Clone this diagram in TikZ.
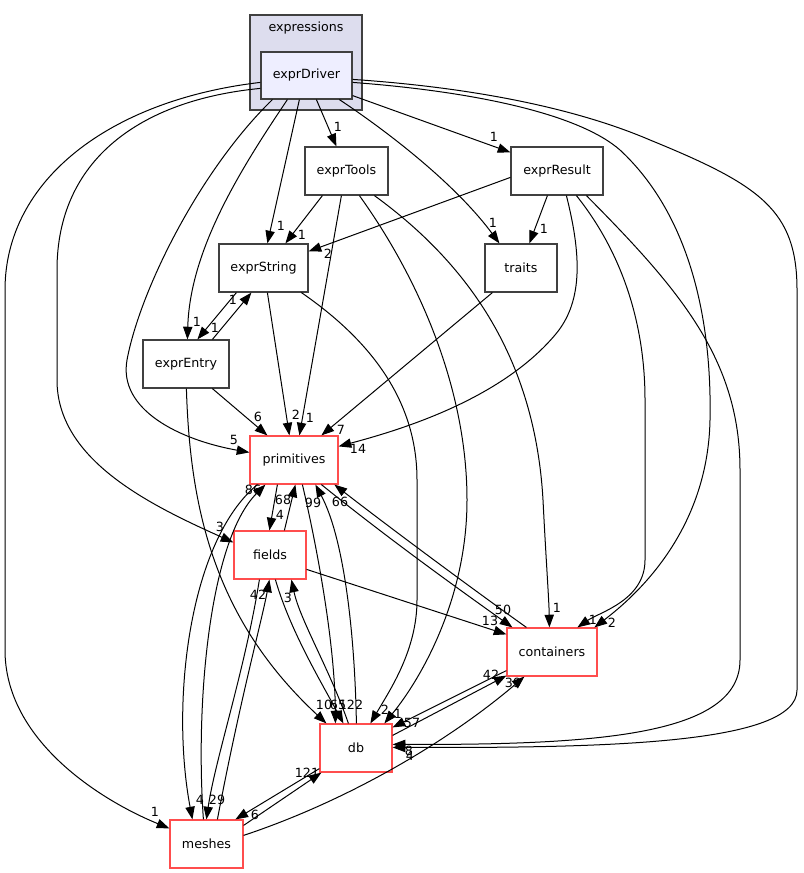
\documentclass[tikz,border=0pt]{standalone}
\usepackage{fontspec}
\setmainfont{DejaVu Sans}
\usetikzlibrary{arrows.meta}
\definecolor{bordergray}{HTML}{404040}
\definecolor{redline}{HTML}{FF4D4D}
\definecolor{clusterfill}{HTML}{DDDDEE}
\definecolor{drivfill}{HTML}{EEEEFF}
\tikzset{
  box/.style={draw=bordergray, line width=0.9pt, fill=white, minimum height=36pt, inner sep=0pt, font=\fontsize{9.5pt}{11pt}\selectfont},
  redbox/.style={box, draw=redline},
  dep/.style={draw=black, line width=0.75pt, -{Triangle[length=9.5pt,width=7pt]}},
  lbl/.style={font=\fontsize{9.5pt}{11pt}\selectfont, inner sep=0pt}
}
\begin{document}
\begin{tikzpicture}[x=0.75pt,y=-0.75pt]
\useasboundingbox (0,0) rectangle (803,873);
% cluster
\node[draw=bordergray, line width=0.9pt, fill=clusterfill, minimum width=84pt, minimum height=71.25pt, inner sep=0pt] (cluster) at (306,62.5) {};
\node[lbl] (clusterlabel) at (306,28) {expressions};
% nodes
\node[box, fill=drivfill, minimum width=68.25pt, minimum height=35.25pt] (exprDriver) at (306.5,75.5) {exprDriver};
\node[box, minimum width=62.25pt] (exprTools) at (346.5,171) {exprTools};
\node[box, minimum width=69pt] (exprResult) at (557,171) {exprResult};
\node[box, minimum width=66.75pt] (exprString) at (263.5,268) {exprString};
\node[box, minimum width=54pt] (traits) at (521,268) {traits};
\node[box, minimum width=64.5pt] (exprEntry) at (186,364) {exprEntry};
\node[redbox, minimum width=66pt] (primitives) at (294,460) {primitives};
\node[redbox, minimum width=54pt] (fields) at (270,555) {fields};
\node[redbox, minimum width=67.5pt] (containers) at (552,652) {containers};
\node[redbox, minimum width=54pt] (db) at (356,748) {db};
\node[redbox, minimum width=54.75pt] (meshes) at (206.5,844) {meshes};

% exprDriver edges
\draw[dep] ([shift={(56,0)}]exprDriver.south west) -- ([shift={(32,0)}]exprTools.north west) node[lbl] at (338,127) {1};
\draw[dep] ([shift={(0,-4)}]exprDriver.south east) -- ([shift={(0,6)}]exprResult.north west) node[lbl] at (494,137) {1};
\draw[dep] ([shift={(39,0)}]exprDriver.south west) -- ([shift={(49,0)}]exprString.north west) node[lbl] at (281,226) {1};
\draw[dep] ([shift={(27,0)}]exprDriver.south west) .. controls (240,170) and (190,250) .. ([shift={(45,0)}]exprEntry.north west) node[lbl] at (197,322) {1};
\draw[dep] ([shift={(12,0)}]exprDriver.south west) .. controls (200,170) and (140,290) .. (127,360) .. controls (118,410) and (180,440) .. ([shift={(0,17)}]primitives.north west) node[lbl] at (234,440) {5};
\draw[dep] ([shift={(0,37)}]exprDriver.north west) .. controls (140,100) and (57,160) .. (57,270) -- (57,380) .. controls (57,460) and (150,505) .. ([shift={(0,12)}]fields.north west) node[lbl] at (220,527) {3};
\draw[dep] ([shift={(0,31)}]exprDriver.north west) .. controls (110,100) and (5,180) .. (5,290) -- (5,650) .. controls (5,740) and (100,800) .. ([shift={(0,9)}]meshes.north west) node[lbl] at (155,812) {1};
\draw[dep] ([shift={(79,0)}]exprDriver.south west) .. controls (400,140) and (460,190) .. ([shift={(15,0)}]traits.north west) node[lbl] at (493,223) {1};
\draw[dep] ([shift={(0,31)}]exprDriver.north east) .. controls (480,92) and (580,115) .. (620,150) .. controls (690,215) and (712,320) .. (710,420) .. controls (708,520) and (650,585) .. ([shift={(88,0)}]containers.north west) node[lbl] at (612,623) {2};
\draw[dep] ([shift={(0,28)}]exprDriver.north east) .. controls (480,88) and (580,110) .. (650,140) .. controls (760,185) and (797,210) .. (797,290) -- (797,690) .. controls (797,745) and (600,748) .. ([shift={(0,24)}]db.north east) node[lbl] at (410,756) {4};

% exprResult edges
\draw[dep] ([shift={(0,31)}]exprResult.north west) -- ([shift={(0,8)}]exprString.north east) node[lbl] at (328,254) {2};
\draw[dep] ([shift={(37,0)}]exprResult.south west) -- ([shift={(45,0)}]traits.north west) node[lbl] at (544,229) {1};
\draw[dep] ([shift={(56,0)}]exprResult.south west) .. controls (580,250) and (585,300) .. (555,335) .. controls (500,400) and (400,430) .. ([shift={(0,11)}]primitives.north east) node[lbl] at (358,449) {14};
\draw[dep] ([shift={(66,0)}]exprResult.south west) .. controls (620,250) and (645,320) .. (645,400) -- (645,560) .. controls (645,600) and (600,612) .. ([shift={(71,0)}]containers.north west) node[lbl] at (593,620) {1};
\draw[dep] ([shift={(76,0)}]exprResult.south west) .. controls (680,290) and (740,360) .. (740,470) -- (740,660) .. controls (740,735) and (600,745) .. ([shift={(0,21)}]db.north east) node[lbl] at (409,751) {8};

% exprTools edges
\draw[dep] ([shift={(18,0)}]exprTools.south west) -- ([shift={(67,0)}]exprString.north west) node[lbl] at (302,235) {1};
\draw[dep] ([shift={(37,0)}]exprTools.south west) -- ([shift={(50,0)}]primitives.north west) node[lbl] at (310,418) {1};
\draw[dep] ([shift={(55,0)}]exprTools.south west) .. controls (420,280) and (467,390) .. (467,500) .. controls (467,600) and (420,680) .. ([shift={(65,0)}]db.north west) node[lbl] at (398,714) {1};
\draw[dep] ([shift={(70,0)}]exprTools.south west) .. controls (470,265) and (535,360) .. (543,500) .. controls (546,560) and (549,600) .. ([shift={(43,0)}]containers.north west) node[lbl] at (557,608) {1};

% exprString edges
\draw[dep] ([shift={(18,0)}]exprString.south west) -- ([shift={(55,0)}]exprEntry.north west) node[lbl] at (215,328) {1};
\draw[dep] ([shift={(49,0)}]exprString.south west) -- ([shift={(40,0)}]primitives.north west) node[lbl] at (296,415) {2};
\draw[dep] ([shift={(83,0)}]exprString.south west) .. controls (370,340) and (417,400) .. (417,480) -- (417,600) .. controls (417,650) and (390,690) .. ([shift={(51,0)}]db.north west) node[lbl] at (385,710) {2};

% exprEntry edges
\draw[dep] ([shift={(70,0)}]exprEntry.north west) -- ([shift={(33,0)}]exprString.south west) node[lbl] at (233,300) {1};
\draw[dep] ([shift={(70,0)}]exprEntry.south west) -- ([shift={(18,0)}]primitives.north west) node[lbl] at (258,417) {6};
\draw[dep] ([shift={(44,0)}]exprEntry.south west) .. controls (190,510) and (215,620) .. ([shift={(7,0)}]db.north west) node[lbl] at (324,705) {10};

% traits edge
\draw[dep] ([shift={(8,0)}]traits.south west) -- ([shift={(72,0)}]primitives.north west) node[lbl] at (341,430) {7};

% primitives edges
\draw[dep] ([shift={(28,0)}]primitives.south west) -- ([shift={(36,0)}]fields.north west) node[lbl] at (280,515) {4};
\draw[dep] ([shift={(8,0)}]primitives.south west) .. controls (190,540) and (170,700) .. ([shift={(23,0)}]meshes.north west) node[lbl] at (200,800) {4};
\draw[dep] ([shift={(53,0)}]primitives.south west) .. controls (320,560) and (335,650) .. ([shift={(16,0)}]db.north west) node[lbl] at (338,705) {65};
\draw[dep] ([shift={(72,0)}]primitives.south west) .. controls (390,540) and (460,590) .. ([shift={(6,0)}]containers.north west) node[lbl] at (503,610) {50};

% fields edges
\draw[dep] ([shift={(51,0)}]fields.north west) -- ([shift={(46,0)}]primitives.south west) node[lbl] at (283,500) {68};
\draw[dep] ([shift={(0,39)}]fields.north east) -- ([shift={(0,7)}]containers.north west) node[lbl] at (490,621) {13};
\draw[dep] ([shift={(42,0)}]fields.south west) .. controls (290,630) and (320,680) .. ([shift={(24,0)}]db.north west) node[lbl] at (351,705) {122};
\draw[dep] ([shift={(26,0)}]fields.south west) .. controls (245,670) and (215,760) .. ([shift={(37,0)}]meshes.north west) node[lbl] at (217,800) {29};

% db edges
\draw[dep] ([shift={(37,0)}]db.north west) .. controls (355,640) and (345,540) .. ([shift={(66,0)}]primitives.south west) node[lbl] at (313,503) {99};
\draw[dep] ([shift={(29,0)}]db.north west) .. controls (330,670) and (300,620) .. ([shift={(58,0)}]fields.south west) node[lbl] at (288,598) {3};
\draw[dep] ([shift={(0,12)}]db.north east) -- ([shift={(0,-1)}]containers.south west) node[lbl] at (491,675) {42};
\draw[dep] ([shift={(0,-4)}]db.south west) -- ([shift={(66,0)}]meshes.north west) node[lbl] at (255,815) {6};

% containers edges
\draw[dep] ([shift={(20,0)}]containers.north west) .. controls (460,580) and (380,520) .. ([shift={(85,0)}]primitives.south west) node[lbl] at (340,502) {66};
\draw[dep] ([shift={(0,-6)}]containers.south west) -- ([shift={(0,4)}]db.north east) node[lbl] at (412,723) {57};

% meshes edges
\draw[dep] ([shift={(34,0)}]meshes.north west) .. controls (195,700) and (210,540) .. ([shift={(16,0)}]primitives.south west) node[lbl] at (253,490) {86};
\draw[dep] ([shift={(48,0)}]meshes.north west) .. controls (240,700) and (262,620) .. ([shift={(36,0)}]fields.south west) node[lbl] at (258,595) {42};
\draw[dep] ([shift={(0,6)}]meshes.north east) -- ([shift={(2,0)}]db.south west) node[lbl] at (307,773) {121};
\draw[dep] ([shift={(0,16)}]meshes.north east) .. controls (350,800) and (450,740) .. ([shift={(18,0)}]containers.south west) node[lbl] at (513,683) {39};
\end{tikzpicture}
\end{document}
